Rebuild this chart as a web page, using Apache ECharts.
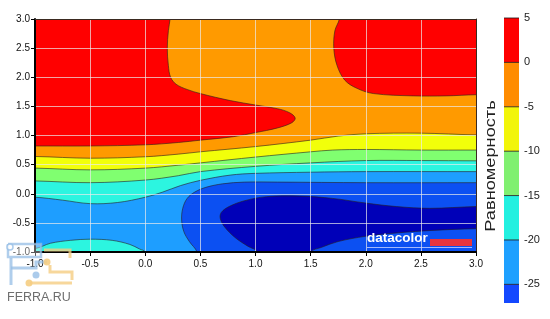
<!DOCTYPE html>
<html><head><meta charset="utf-8">
<script src="https://cdn.jsdelivr.net/npm/echarts@6/dist/echarts.min.js"></script>
<style>html,body{margin:0;padding:0;background:#fff}#c{width:550px;height:319px}</style>
</head><body><div id="c"></div>
<script>
// ---- tick labels / levels ----
const axisTicks = [-1, -0.5, 0, 0.5, 1, 1.5, 2, 2.5, 3];
const levelLabels = [5, 0, -5, -10, -15, -20, -25];
const colorbarBands = [[0, 5], [-5, 0], [-10, -5], [-15, -10], [-20, -15], [-25, -20], [-27.1, -25]];
const colorbarColors = ['#ff0000', '#ff8c00', '#f2f50a', '#80f070', '#22f0e0', '#1ea0ff', '#1448ff'];
const fillColors = {
  red: '#ff0000', orange: '#ff9a00', yellow: '#f2ff0a', green: '#80ff70',
  cyan: '#2cf5e0', lightBlue: '#1e9eff', blue: '#0c50f2', darkBlue: '#0000b8'
};

// ---- contour boundaries (x, y) ----
const redLeft = [[-1.3, 3.3], [0.23, 3.3], [0.225, 3], [0.21, 2.8], [0.2, 2.5], [0.21, 2.2], [0.23, 2.0],
  [0.28, 1.88], [0.38, 1.79], [0.5, 1.72], [0.77, 1.6], [1.01, 1.52], [1.2, 1.46], [1.31, 1.39],
  [1.36, 1.3], [1.33, 1.22], [1.2, 1.13], [1.0, 1.05], [0.8, 0.98], [0.5, 0.92], [0.3, 0.88],
  [0, 0.84], [-0.5, 0.82], [-1, 0.82], [-1.3, 0.82]];
const redRight = [[1.76, 3.3], [1.76, 3], [1.72, 2.8], [1.71, 2.5], [1.74, 2.2], [1.81, 1.95],
  [1.92, 1.81], [2.07, 1.72], [2.43, 1.68], [2.73, 1.68], [3, 1.70], [3.3, 1.70], [3.3, 3.3]];
const curveM5 = [[-1, 0.64], [-0.5, 0.61], [0, 0.635], [0.3, 0.68], [0.5, 0.72], [1.0, 0.81],
  [1.5, 0.92], [1.75, 0.99], [2.0, 1.03], [2.5, 1.04], [3, 1.01]];
const curveM10 = [[-1, 0.44], [-0.5, 0.41], [0, 0.44], [0.3, 0.49], [0.5, 0.53], [1.0, 0.63],
  [1.5, 0.72], [1.7, 0.75], [2.0, 0.76], [2.5, 0.75], [3, 0.75]];
const curveM15 = [[-1, 0.22], [-0.5, 0.19], [0, 0.235], [0.3, 0.31], [0.5, 0.38], [1.0, 0.47],
  [1.5, 0.53], [2.0, 0.57], [2.5, 0.57], [3, 0.565]];
const curveM20 = [[-1, -0.06], [-0.75, -0.11], [-0.5, -0.17], [-0.25, -0.15], [0, -0.06], [0.16, 0.03],
  [0.32, 0.14], [0.5, 0.23], [0.77, 0.32], [1.0, 0.35], [1.5, 0.37], [2.0, 0.38], [3, 0.38]];
const cyanIsland = [[-1.3, -1.3], [-1.3, -0.94], [-1, -0.94], [-0.86, -0.85], [-0.68, -0.8], [-0.5, -0.78],
  [-0.3, -0.8], [-0.14, -0.87], [-0.05, -0.95], [0.0, -1.0], [0.02, -1.3]];
const blueRegion = [[3.3, 0.19], [3, 0.19], [2, 0.19], [1.2, 0.2], [0.9, 0.2], [0.7, 0.17], [0.55, 0.11],
  [0.45, 0.03], [0.38, -0.08], [0.34, -0.25], [0.33, -0.45], [0.35, -0.65], [0.4, -0.82], [0.47, -1],
  [0.5, -1.3], [3.3, -1.3]];
const darkBlueRegion = [[3.3, -0.22], [3, -0.22], [2.58, -0.25], [2.28, -0.22], [2.0, -0.16], [1.7, -0.08],
  [1.4, -0.04], [1.1, -0.05], [0.9, -0.12], [0.76, -0.22], [0.69, -0.32], [0.68, -0.42], [0.72, -0.57],
  [0.82, -0.76], [0.93, -0.9], [1.02, -1.0], [1.05, -1.3], [1.45, -1.3], [1.5, -1.0], [1.6, -0.92],
  [1.75, -0.82], [2.0, -0.73], [2.3, -0.67], [2.6, -0.63], [3, -0.6], [3.3, -0.6]];
const plotCover = [[-1.3, -1.3], [3.3, -1.3], [3.3, 3.3], [-1.3, 3.3]];

function below(c) {
  return [[-1.3, c[0][1]], ...c, [3.3, c[c.length - 1][1]], [3.3, -1.3], [-1.3, -1.3]];
}

function polySeries(pts, color, stroke) {
  return {
    type: 'custom', xAxisIndex: 0, yAxisIndex: 0, clip: true, silent: true,
    data: pts, encode: { x: 0, y: 1 },
    renderItem: function (params, api) {
      if (params.dataIndex !== 0) return null;
      return {
        type: 'polygon',
        shape: { points: pts.map(p => api.coord(p)), smooth: 0.35 },
        style: { fill: color, stroke: stroke ? 'rgba(40,30,30,0.75)' : null, lineWidth: 0.8 }
      };
    }
  };
}

const chart = echarts.init(document.getElementById('c'), null, { renderer: 'canvas' });
const fontFam = '"Liberation Sans", Arial, sans-serif';

const mainAxisCommon = {
  type: 'value', min: -1, max: 3, interval: 0.5, gridIndex: 0, z: 10
};

const option = {
  animation: false,
  backgroundColor: '#ffffff',
  grid: [
    { left: 35, top: 19, width: 441, height: 233 },
    { left: 504, top: 18, width: 15, height: 285 }
  ],
  xAxis: [
    Object.assign({}, mainAxisCommon, {
      position: 'bottom',
      axisLine: { show: true, onZero: false, lineStyle: { color: '#000', width: 2 } },
      axisTick: { show: true, length: 4, lineStyle: { color: '#000' } },
      axisLabel: { color: '#111', fontSize: 10, fontFamily: fontFam, margin: 7,
        formatter: v => v.toFixed(1) },
      splitLine: { show: true, lineStyle: { color: 'rgba(235,235,235,0.7)', width: 1 } }
    }),
    Object.assign({}, mainAxisCommon, {
      position: 'top',
      axisLine: { show: true, onZero: false, lineStyle: { color: '#3a2a20', width: 1 } },
      axisTick: { show: false }, axisLabel: { show: false }, splitLine: { show: false }
    }),
    { type: 'value', gridIndex: 1, min: 0, max: 1, show: false }
  ],
  yAxis: [
    Object.assign({}, mainAxisCommon, {
      position: 'left',
      axisLine: { show: true, onZero: false, lineStyle: { color: '#000', width: 2 } },
      axisTick: { show: true, length: 4, lineStyle: { color: '#000' } },
      axisLabel: { color: '#111', fontSize: 10, fontFamily: fontFam, margin: 5,
        formatter: v => v.toFixed(1) },
      splitLine: { show: true, lineStyle: { color: 'rgba(235,235,235,0.7)', width: 1 } }
    }),
    Object.assign({}, mainAxisCommon, {
      position: 'right',
      axisLine: { show: true, onZero: false, lineStyle: { color: '#3a2a20', width: 1 } },
      axisTick: { show: false }, axisLabel: { show: false }, splitLine: { show: false }
    }),
    {
      type: 'value', gridIndex: 1, min: -27.1, max: 5, position: 'right',
      axisLine: { show: false }, axisTick: { show: false }, splitLine: { show: false },
      axisLabel: { show: true, customValues: levelLabels, color: '#222', fontSize: 11,
        fontFamily: fontFam, margin: 5 }
    }
  ],
  series: [
    polySeries(plotCover, fillColors.orange, false),
    polySeries(redLeft, fillColors.red, true),
    polySeries(redRight, fillColors.red, true),
    polySeries(below(curveM5), fillColors.yellow, true),
    polySeries(below(curveM10), fillColors.green, true),
    polySeries(below(curveM15), fillColors.cyan, true),
    polySeries(below(curveM20), fillColors.lightBlue, true),
    polySeries(cyanIsland, fillColors.cyan, true),
    polySeries(blueRegion, fillColors.blue, true),
    polySeries(darkBlueRegion, fillColors.darkBlue, true),
    {
      type: 'custom', xAxisIndex: 2, yAxisIndex: 2, silent: true,
      data: colorbarBands.map((b, i) => [b[0], b[1], i]),
      encode: { y: [0, 1] },
      renderItem: function (params, api) {
        const lo = api.value(0), hi = api.value(1), idx = api.value(2);
        const p0 = api.coord([0, hi]);
        const p1 = api.coord([1, lo]);
        return {
          type: 'group',
          children: [
            { type: 'rect', shape: { x: p0[0], y: p0[1], width: p1[0] - p0[0], height: p1[1] - p0[1] },
              style: { fill: colorbarColors[idx] } },
            { type: 'line', shape: { x1: p0[0], y1: p0[1], x2: p1[0], y2: p0[1] },
              style: { stroke: 'rgba(30,20,20,0.8)', lineWidth: 1 } }
          ]
        };
      }
    }
  ],
  graphic: [
    { type: 'text', x: 491, y: 166, rotation: Math.PI / 2, scaleX: 1.3, z: 20,
      style: { text: 'Равномерность', font: '14px "Liberation Sans", Arial, sans-serif',
        fill: '#222', align: 'center', verticalAlign: 'middle' } },
    // datacolor logo
    { type: 'text', x: 367, y: 245, z: 20,
      style: { text: 'datacolor', font: 'bold 13.5px "Liberation Sans", Arial, sans-serif',
        fill: '#ffffff', align: 'left', verticalAlign: 'bottom' } },
    { type: 'rect', z: 20, shape: { x: 430, y: 239, width: 42, height: 7 }, style: { fill: '#e8343c' } },
    { type: 'line', z: 20, shape: { x1: 367, y1: 247.5, x2: 472, y2: 247.5 },
      style: { stroke: 'rgba(200,210,255,0.8)', lineWidth: 1 } },
    // FERRA.RU watermark
    { type: 'polyline', z: 30, shape: { points: [[8, 244], [41, 244], [41, 257], [8, 257], [8, 244]] },
      style: { stroke: 'rgba(150,190,230,0.75)', lineWidth: 2.5, fill: 'rgba(255,255,255,0.35)' } },
    { type: 'polyline', z: 30, shape: { points: [[11, 258], [11, 285]] },
      style: { stroke: 'rgba(150,190,230,0.75)', lineWidth: 3 } },
    { type: 'polyline', z: 30, shape: { points: [[11, 268], [36, 268], [36, 262], [47, 262]] },
      style: { stroke: 'rgba(150,190,230,0.75)', lineWidth: 3 } },
    { type: 'circle', z: 30, shape: { cx: 10, cy: 247, r: 3 },
      style: { fill: 'rgba(255,255,255,0.8)', stroke: 'rgba(150,190,230,0.8)', lineWidth: 1.5 } },
    { type: 'circle', z: 30, shape: { cx: 36, cy: 275, r: 3.5 },
      style: { fill: 'rgba(150,190,230,0.8)' } },
    { type: 'polyline', z: 30, shape: { points: [[44, 250], [70, 250], [70, 258]] },
      style: { stroke: 'rgba(245,205,130,0.8)', lineWidth: 3 } },
    { type: 'polyline', z: 30, shape: { points: [[50, 265], [50, 272], [72, 272], [72, 280]] },
      style: { stroke: 'rgba(245,205,130,0.8)', lineWidth: 3 } },
    { type: 'polyline', z: 30, shape: { points: [[30, 283], [72, 283]] },
      style: { stroke: 'rgba(245,205,130,0.8)', lineWidth: 3 } },
    { type: 'circle', z: 30, shape: { cx: 29, cy: 283, r: 3.5 },
      style: { fill: 'rgba(245,205,130,0.9)' } },
    { type: 'circle', z: 30, shape: { cx: 47, cy: 262, r: 3.5 },
      style: { fill: 'rgba(245,205,130,0.9)' } },
    { type: 'text', x: 7, y: 298, z: 30,
      style: { text: 'FERRA.RU', font: '12.5px "Liberation Sans", Arial, sans-serif',
        fill: '#6e6e6e', align: 'left', verticalAlign: 'middle' } }
  ]
};
chart.setOption(option);
</script>
</body></html>
